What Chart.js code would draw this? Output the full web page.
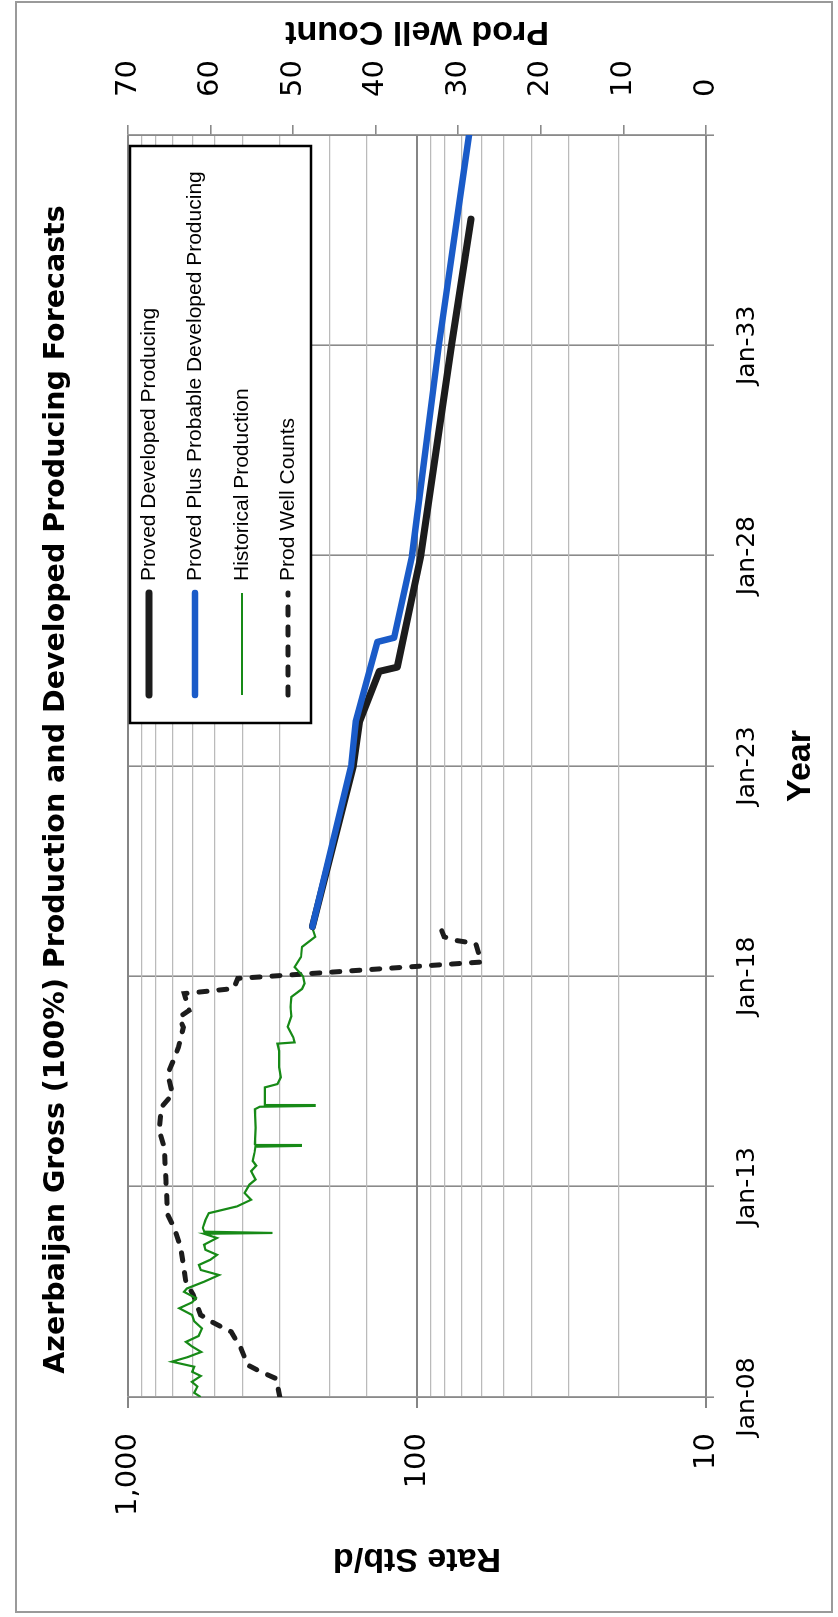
<!DOCTYPE html>
<html>
<head>
<meta charset="utf-8">
<title>Azerbaijan Gross Production</title>
<script src="https://cdn.jsdelivr.net/npm/chart.js@4.4.0/dist/chart.umd.min.js"></script>
<style>
  html, body { margin: 0; padding: 0; background: #fff; overflow: hidden; }
  /* the chart is laid out landscape and turned a quarter turn on the page */
  #wrap {
    position: absolute; left: 0; top: 0;
    width: 1617px; height: 838px;
    transform-origin: 0 0;
    transform: translate(0, 1617px) rotate(-90deg);
  }
</style>
</head>
<body>
<div id="wrap"><canvas id="chart" width="1617" height="838"></canvas></div>
<script>
// Tick labels
const xTickLabels = ['Jan-08', 'Jan-13', 'Jan-18', 'Jan-23', 'Jan-28', 'Jan-33', ''];
const rateTickValues = [10, 100, 1000];
const rateTickLabels = ['10', '100', '1,000'];
const wellAxisTitle = 'Prod Well Count';

// Proved Developed Producing forecast (Stb/d)
const pdpYears = [2019.18, 2023.0, 2024.05, 2025.25, 2025.35, 2028.0, 2033.0, 2036.0];
const pdpRate = [230, 166, 158, 135, 117, 97, 76, 65];

// Proved Plus Probable Developed Producing forecast (Stb/d)
const ppYears = [2019.18, 2023.0, 2024.05, 2025.95, 2026.05, 2028.0, 2033.0, 2038.0];
const ppRate = [230, 169, 163, 137, 120, 104, 84, 66];

// Historical production (Stb/d)
const histYears = [
  2008.00, 2008.10, 2008.25, 2008.36, 2008.50, 2008.60, 2008.72, 2008.84, 2008.95, 2009.07,
  2009.20, 2009.31, 2009.45, 2009.63, 2009.80, 2009.95, 2010.11, 2010.25, 2010.35, 2010.50,
  2010.58, 2010.74, 2010.90, 2011.02, 2011.14, 2011.26, 2011.38, 2011.50, 2011.62, 2011.78,
  2011.88, 2011.90, 2011.93, 2012.02, 2012.20, 2012.37, 2012.53, 2012.69, 2012.85, 2013.05,
  2013.17, 2013.37, 2013.50, 2013.61, 2013.81, 2013.95, 2013.97, 2013.99, 2014.01, 2014.40,
  2014.84, 2014.90, 2014.92, 2014.94, 2015.00, 2015.36, 2015.44, 2015.60, 2015.84, 2016.23,
  2016.40, 2016.43, 2016.55, 2016.80, 2017.05, 2017.27, 2017.51, 2017.70, 2017.83, 2018.00,
  2018.22, 2018.46, 2018.70, 2018.94, 2019.14
];
const histRate = [
  560, 590, 575, 601, 560, 600, 590, 705, 620, 558,
  600, 630, 570, 555, 590, 600, 665, 600, 582, 640,
  625, 546, 484, 560, 568, 520, 492, 540, 546, 492,
  545, 316, 545, 551, 540, 525, 420, 375, 395, 380,
  362, 375, 360, 370, 365, 362, 252, 362, 364, 362,
  364, 350, 226, 336, 336, 336, 304, 296, 300, 300,
  304, 265, 268, 280, 272, 274, 272, 250, 245, 248,
  265, 252, 250, 225, 230
];

// Producing well counts (right axis)
const wellYears = [
  2008.00, 2008.44, 2008.60, 2008.76, 2009.15, 2009.55, 2009.79, 2009.95, 2010.43, 2010.74,
  2011.54, 2012.02, 2012.34, 2013.13, 2013.93, 2014.32, 2014.88, 2015.20, 2015.68, 2016.00,
  2016.31, 2016.79, 2017.03, 2017.19, 2017.59, 2017.71, 2017.95, 2018.34, 2018.78, 2018.86,
  2018.94, 2019.18
];
const wellCount = [
  51.6, 52.1, 53.9, 55.5, 56.3, 57.5, 59.9, 61.2, 62.1, 63.0,
  63.6, 64.4, 65.2, 65.4, 65.6, 66.2, 66.0, 64.6, 65.2, 64.5,
  63.9, 63.3, 63.8, 62.6, 63.2, 57.2, 56.7, 27.2, 27.9, 30.5,
  31.7, 32.2
];

const toPoints = (xs, ys) => xs.map((x, i) => ({ x: x, y: ys[i] }));
const isDecade = v => Math.abs(Math.log10(v) - Math.round(Math.log10(v))) < 1e-6;

const gridGrey = '#8a8a8a';
const tickFont = { family: 'DejaVu Sans', size: 29 };
const axisTitleFont = { family: 'Liberation Sans', size: 34, weight: 'bold' };

// white page and thin outer frame
const chartFrame = {
  id: 'chartFrame',
  beforeDraw(chart) {
    const ctx = chart.ctx;
    ctx.save();
    ctx.fillStyle = '#fff';
    ctx.fillRect(0, 0, chart.width, chart.height);
    ctx.strokeStyle = '#9a9a9a';
    ctx.lineWidth = 2;
    ctx.strokeRect(5, 16, chart.width - 7, chart.height - 22);
    ctx.restore();
  }
};

// boxed legend sitting inside the plot, top right
const boxLegend = {
  id: 'boxLegend',
  afterDatasetsDraw(chart) {
    const { ctx, chartArea } = chart;
    const left = chartArea.right - 588;
    const right = chartArea.right - 11;
    const top = chartArea.top + 2;
    const bottom = chartArea.top + 183;
    const rows = [21, 67, 114, 160];
    ctx.save();
    ctx.fillStyle = '#fff';
    ctx.fillRect(left, top, right - left, bottom - top);
    ctx.strokeStyle = '#000';
    ctx.lineWidth = 2.5;
    ctx.strokeRect(left, top, right - left, bottom - top);
    chart.data.datasets.forEach((ds, i) => {
      const y = chartArea.top + rows[i];
      ctx.beginPath();
      ctx.setLineDash(ds.borderDash || []);
      ctx.lineWidth = ds.borderWidth;
      ctx.strokeStyle = ds.borderColor;
      ctx.lineCap = ds.borderCapStyle || 'butt';
      ctx.moveTo(left + 28, y);
      ctx.lineTo(left + 130, y);
      ctx.stroke();
      ctx.setLineDash([]);
      ctx.fillStyle = '#000';
      ctx.font = '21px "Liberation Sans"';
      ctx.textBaseline = 'middle';
      ctx.textAlign = 'left';
      ctx.fillText(ds.label, left + 142, y);
    });
    ctx.restore();
  }
};

// right axis title reads bottom-to-top, like the left one
const rightTitle = {
  id: 'rightTitle',
  afterDraw(chart) {
    const { ctx, chartArea } = chart;
    ctx.save();
    ctx.translate(chart.width - 31, (chartArea.top + chartArea.bottom) / 2);
    ctx.rotate(-Math.PI / 2);
    ctx.font = 'bold 34px "Liberation Sans"';
    ctx.fillStyle = '#000';
    ctx.textAlign = 'center';
    ctx.textBaseline = 'middle';
    ctx.fillText(wellAxisTitle, 0, 0);
    ctx.restore();
  }
};

new Chart(document.getElementById('chart').getContext('2d'), {
  type: 'line',
  data: {
    datasets: [
      {
        label: 'Proved Developed Producing',
        data: toPoints(pdpYears, pdpRate),
        yAxisID: 'y',
        borderColor: '#1c1c1c',
        borderWidth: 7,
        borderCapStyle: 'round',
        borderJoinStyle: 'round',
        pointRadius: 0,
        order: 1
      },
      {
        label: 'Proved Plus Probable Developed Producing',
        data: toPoints(ppYears, ppRate),
        yAxisID: 'y',
        borderColor: '#1a5bc8',
        borderWidth: 6.5,
        borderCapStyle: 'round',
        borderJoinStyle: 'round',
        pointRadius: 0,
        order: 0
      },
      {
        label: 'Historical Production',
        data: toPoints(histYears, histRate),
        yAxisID: 'y',
        borderColor: '#178a17',
        borderWidth: 2.2,
        pointRadius: 0,
        order: 2
      },
      {
        label: 'Prod Well Counts',
        data: toPoints(wellYears, wellCount),
        yAxisID: 'y1',
        borderColor: '#1c1c1c',
        borderWidth: 5,
        borderDash: [8, 12],
        borderCapStyle: 'round',
        pointRadius: 0,
        order: 3
      }
    ]
  },
  options: {
    responsive: false,
    animation: false,
    events: [],
    devicePixelRatio: 1,
    layout: { padding: { left: 38, top: 0, right: 0, bottom: 0 } },
    plugins: {
      legend: { display: false },
      tooltip: { enabled: false },
      title: {
        display: true,
        text: 'Azerbaijan Gross (100%) Production and Developed Producing Forecasts',
        color: '#000',
        font: { family: 'DejaVu Sans', size: 28.5, weight: 'bold' },
        padding: { top: 39, bottom: 54.8 }
      }
    },
    scales: {
      x: {
        type: 'linear',
        min: 2008,
        max: 2038,
        afterFit: s => { s.height = 132; },
        ticks: {
          stepSize: 5,
          padding: 18,
          autoSkip: false,
          maxRotation: 0,
          color: '#000',
          font: { family: 'DejaVu Sans', size: 25 },
          callback: (v, i) => xTickLabels[i]
        },
        grid: { color: gridGrey, lineWidth: 1.6, tickLength: 8, tickColor: gridGrey },
        border: { color: gridGrey, width: 1.6 },
        title: {
          display: true,
          text: 'Year',
          color: '#000',
          font: axisTitleFont,
          padding: { top: 0, bottom: 16.6 }
        }
      },
      y: {
        type: 'logarithmic',
        position: 'left',
        min: 10,
        max: 1000,
        afterFit: s => { s.width = 182; },
        ticks: {
          autoSkip: false,
          padding: 25,
          color: '#000',
          font: tickFont,
          callback: v => {
            const i = rateTickValues.findIndex(t => Math.abs(t - v) < 1e-6);
            return i >= 0 ? rateTickLabels[i] : '';
          }
        },
        grid: {
          color: c => isDecade(c.tick.value) ? '#858585' : '#bababa',
          lineWidth: c => isDecade(c.tick.value) ? 2 : 1.2,
          tickLength: 11,
          tickColor: c => isDecade(c.tick.value) ? '#858585' : 'rgba(0,0,0,0)'
        },
        border: { color: gridGrey, width: 1.6 },
        title: {
          display: true,
          text: 'Rate Stb/d',
          color: '#000',
          font: axisTitleFont,
          padding: 0
        }
      },
      y1: {
        type: 'linear',
        position: 'right',
        min: 0,
        max: 70,
        afterFit: s => { s.width = 135; },
        ticks: { stepSize: 10, padding: 28, color: '#000', font: tickFont },
        grid: { drawOnChartArea: false, tickLength: 10, color: gridGrey, lineWidth: 1.6 },
        border: { color: gridGrey, width: 1.6 }
      }
    }
  },
  plugins: [chartFrame, boxLegend, rightTitle]
});
</script>
</body>
</html>
